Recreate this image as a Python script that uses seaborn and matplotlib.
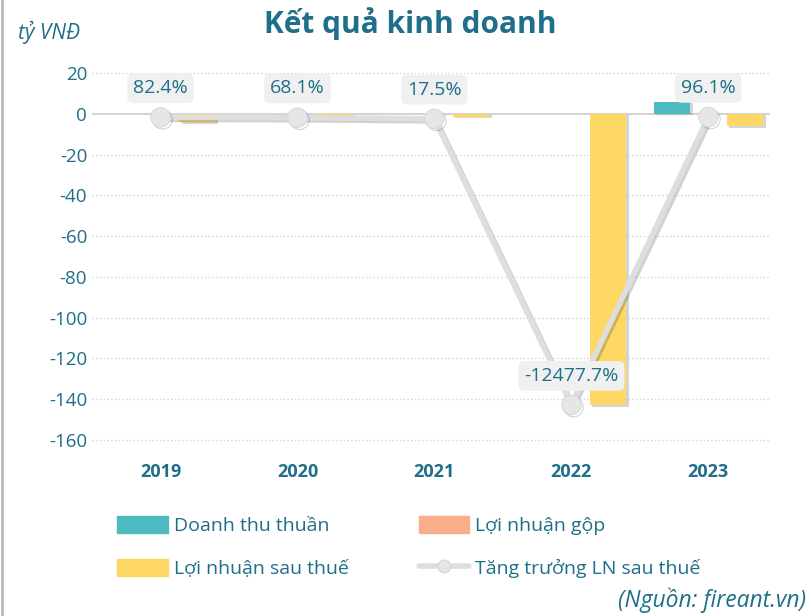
import numpy as np
import pandas as pd
import matplotlib
matplotlib.use("Agg")
import matplotlib.pyplot as plt
import matplotlib.patheffects as pe
from matplotlib.lines import Line2D
from matplotlib.patches import Patch
import seaborn as sns

# Data
years = ["2019", "2020", "2021", "2022", "2023"]
doanh_thu = [0.0, 0.0, 0.0, 0.0, 6.0]
ln_gop = [0.0, 0.0, 0.0, 0.0, 0.4]
ln_sau_thue = [-4.0, -0.8, -1.3, -143.0, -6.0]
tang_truong = [82.4, 68.1, 17.5, -12477.7, 96.1]
growth_labels = ["82.4%", "68.1%", "17.5%", "-12477.7%", "96.1%"]
y_ticks = [20, 0, -20, -40, -60, -80, -100, -120, -140, -160]

series_names = ["Doanh thu thuần", "Lợi nhuận gộp", "Lợi nhuận sau thuế"]
line_name = "Tăng trưởng LN sau thuế"
colors = ["#4dbbc0", "#f8ae8a", "#fdd865"]
text_color = "#1f6e8a"

sns.set_theme(style="white")
plt.rcParams["font.family"] = ["Open Sans", "DejaVu Sans"]

df = pd.DataFrame({
    "year": years * 3,
    "series": [s for s in series_names for _ in years],
    "value": doanh_thu + ln_gop + ln_sau_thue,
})

fig = plt.figure(figsize=(8.12, 6.16), dpi=100)
ax = fig.add_axes([92 / 812, 1 - 444 / 616, 678 / 812, 383 / 616])

sns.barplot(data=df, x="year", y="value", hue="series", order=years,
            hue_order=series_names, palette=colors, width=0.8,
            ax=ax, legend=False, saturation=1, linewidth=0)
for p in ax.patches:
    if abs(p.get_height()) > 0.5:
        p.set_path_effects([pe.SimplePatchShadow(offset=(2, -1), shadow_rgbFace="#888888", alpha=0.35),
                            pe.Normal()])
    else:
        p.set_visible(False)

ax.set_ylim(-162, 26)
ax.set_xlim(-0.5, 4.45)
ax.set_yticks(y_ticks)
ax.set_yticklabels([str(v) for v in y_ticks], color=text_color, fontsize=13.5)
ax.set_xticks(range(len(years)))
ax.set_xticklabels(years, color=text_color, fontsize=13, fontweight="bold")
ax.tick_params(axis="both", length=0)
ax.tick_params(axis="x", pad=14)
ax.set_xlabel("")
ax.set_ylabel("")
for s in ax.spines.values():
    s.set_visible(False)
for v in y_ticks:
    if v == 0:
        ax.axhline(v, color="#d4d4d4", lw=1.5, zorder=0.5)
    else:
        ax.axhline(v, color="#cfcfcf", lw=0.9, ls=(0, (1, 2)), zorder=0.5)

# growth line on hidden secondary axis
ax2 = ax.twinx()
ax2.set_ylim(-14180, 2541)
ax2.set_axis_off()
pos = np.arange(len(years))
sns.lineplot(x=pos, y=tang_truong, ax=ax2, color="#dedede", lw=4, marker="o",
             markersize=14, markeredgecolor="#d8d8d8", markerfacecolor="#e6e6e6",
             path_effects=[pe.SimpleLineShadow(offset=(1.5, -1.5), alpha=0.2), pe.Normal()],
             legend=False)
ax2.set_xlim(ax.get_xlim())
for x, y, lab in zip(pos, tang_truong, growth_labels):
    ax2.annotate(lab, (x, y), xytext=(0, 21), textcoords="offset points",
                 ha="center", va="center", fontsize=14, color=text_color,
                 bbox=dict(boxstyle="round,pad=0.3,rounding_size=0.3",
                           fc="#f0f0f0", ec="none"))

fig.text(0.505, 0.962, "Kết quả kinh doanh", ha="center", va="center",
         fontsize=21.5, fontweight="bold", color=text_color)
fig.text(0.022, 0.947, "tỷ VNĐ", ha="left", va="center", fontsize=15,
         fontstyle="italic", color=text_color)
fig.text(0.992, 0.026, "(Nguồn: fireant.vn)", ha="right", va="center",
         fontsize=16.5, fontstyle="italic", color=text_color)

handles = [Patch(color=colors[0]), Patch(color=colors[2]),
           Patch(color=colors[1]),
           Line2D([], [], color="#dedede", lw=4, marker="o", markersize=9,
                  markerfacecolor="#e6e6e6", markeredgecolor="#d8d8d8")]
labels = [series_names[0], series_names[2], series_names[1], line_name]
leg = fig.legend(handles, labels, ncol=2, loc="upper left",
                 bbox_to_anchor=(0.135, 0.175), frameon=False, fontsize=14,
                 handlelength=2.6, handleheight=1.0, handletextpad=0.3,
                 columnspacing=3.6, labelspacing=1.2, borderaxespad=0)
for t in leg.get_texts():
    t.set_color(text_color)

fig.add_artist(Line2D([0.002, 0.002], [0, 1], color="#bbbbbb", lw=2,
                      transform=fig.transFigure))

fig.savefig("out.png", dpi=100)
